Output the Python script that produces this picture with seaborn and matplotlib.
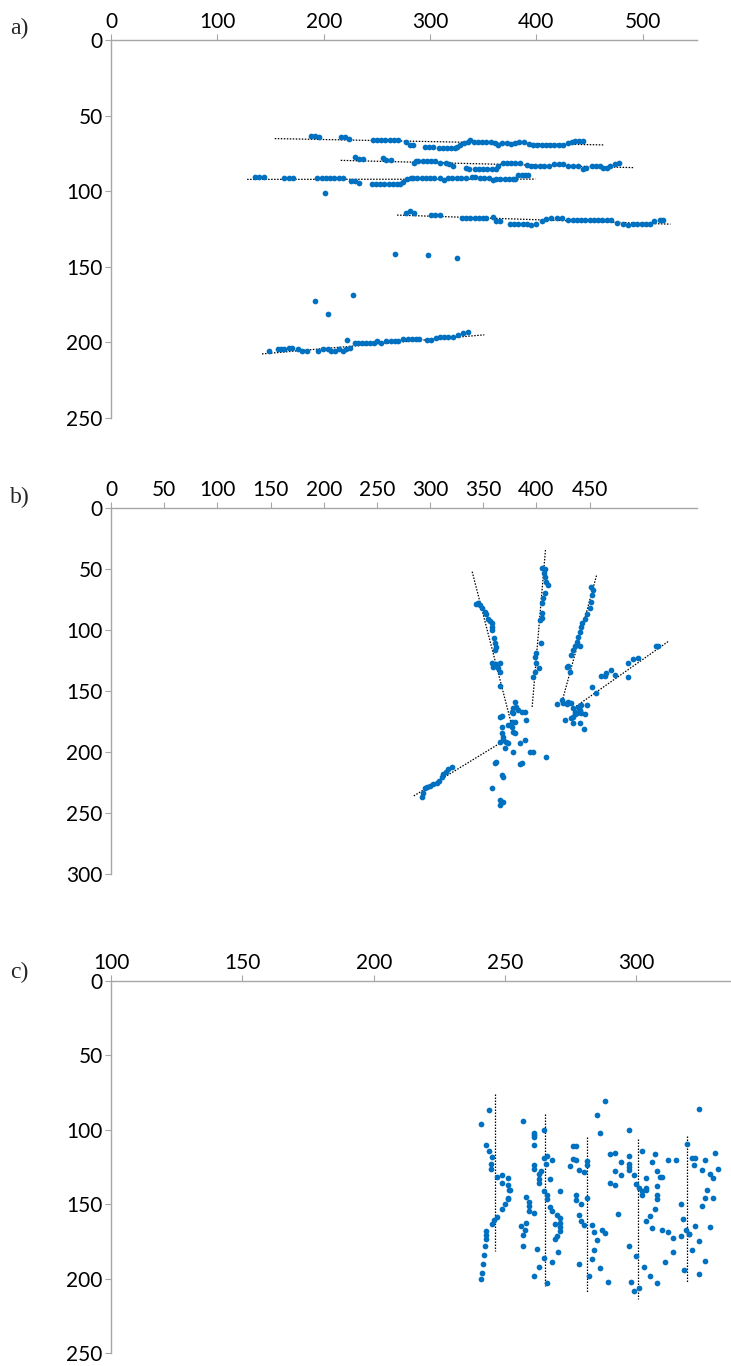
import matplotlib
matplotlib.use('Agg')
import matplotlib.pyplot as plt
import seaborn as sns
import pandas as pd

# ---------------- data ----------------
# panel a : five horizontal tracks (x, y)
a_track1 = [(188,63.2),(192,63.2),(196,64.3),(216,63.9),(220,63.9),(224,65.2),
            (246,66.3),(250,66.3),(254,66.3),(258,66.3),(262,66.3),(266,66.3),(270,66.3),
            (277,67.6),(281,69.4),(284,69.4),(295,70.5),(299,70.5),(303,70.5),
            (308,71.6),(312,71.6),(316,71.6),(320,71.6),(323,71.6),
            (325,70.5),(328,69.2),(332,68.3),(336,67.2),(338,66.1),
            (341,67.4),(345,67.4),(349,67.4),(353,67.4),(357,67.4),
            (361,68.3),(364,69.2),(368,68.3),(372,68.3),(376,68.5),(380,68.3),
            (384,67.4),(388,67.4),(393,68.5),(397,69.2),(401,69.4),(405,69.4),(409,69.4),
            (413,69.4),(417,69.4),(421,69.4),(425,69.4),(430,68.3),(433,67.4),
            (436,67.0),(440,67.0),(444,67.0)]
a_track2 = [(229,77.4),(233,78.5),(237,78.5),(256,78.3),(259,79.4),(263,79.4),
            (285,81.4),(287,80.0),(289,80.0),(293,80.0),(297,80.0),(301,80.0),(305,80.0),
            (309,81.1),(315,81.4),(318,82.2),(322,83.6),
            (334,84.4),(337,85.1),(342,85.6),(346,85.6),(350,85.6),(354,85.6),(358,85.6),(362,85.6),
            (364,83.3),(369,81.4),(372,81.4),(376,81.4),(380,81.4),(385,81.4),
            (391,82.5),(395,83.3),(399,83.6),(403,83.6),(407,83.6),(412,83.6),
            (417,82.2),(421,82.2),(425,82.2),(430,83.6),(434,83.6),(439,83.6),
            (444,85.6),(447,84.4),(452,83.6),(456,83.6),(460,83.6),(463,84.7),
            (466,84.4),(469,83.3),(474,82.2),(478,81.4)]
a_track3 = [(135,90.4),(139,90.4),(144,90.4),(163,91.5),(167,91.5),(171,91.5),
            (194,91.5),(198,91.5),(202,91.5),(206,91.5),(210,91.5),(214,91.5),(218,91.5),
            (226,93.3),(229,93.3),(233,94.4),
            (245,95.5),(249,95.5),(253,95.5),(257,95.5),(261,95.5),(265,95.5),(269,95.5),(272,95.5),
            (275,93.9),(278,92.2),(282,91.1),
            (284,91.3),(288,91.3),(292,91.3),(296,91.3),(300,91.3),(304,91.3),(309,91.3),
            (313,92.5),(317,91.3),(321,91.3),(325,91.3),(329,91.3),(334,91.3),
            (339,90.4),(342,90.4),(347,91.5),(351,91.5),(355,91.5),(359,92.8),
            (362,91.7),(366,91.7),(370,91.7),(374,91.7),(378,91.7),(380,91.7),
            (383,89.5),(386,89.3),(389,89.3),(392,89.3),(201,101.5)]
a_track4 = [(277,114.3),(281,113.2),(285,114.3),(301,115.6),(305,115.6),(309,115.6),
            (330,117.4),(334,117.4),(338,117.4),(342,117.4),(346,117.4),(350,117.4),(353,117.4),
            (359,117.0),(362,119.4),(366,119.4),
            (375,121.6),(379,121.6),(383,121.6),(387,121.6),(391,121.6),
            (395,122.2),(400,121.6),(405,119.8),(409,118.3),(414,117.4),(419,117.4),(424,117.4),
            (430,119.1),(434,119.1),(438,119.1),(442,119.1),(446,119.1),(450,119.1),
            (454,119.1),(458,119.1),(462,119.1),(466,119.1),(470,119.1),
            (476,120.9),(481,121.6),(486,122.2),(491,121.6),(495,121.6),(499,121.6),
            (503,121.6),(507,121.6),(511,119.8),(516,119.1),(519,119.1)]
a_track5 = [(149,205.6),(157,204.5),(160,204.5),(163,204.5),(167,203.4),(170,203.4),
            (176,204.5),(180,205.6),(184,205.6),(195,205.6),(199,204.5),(204,204.5),
            (207,205.6),(211,205.6),(214,204.5),(218,205.6),(221,204.5),(225,203.4),(222,198.3),
            (229,200.5),(232,200.5),(236,200.5),(240,200.5),(244,200.5),(247,200.5),
            (250,199.4),(254,200.5),(259,199.4),(263,199.4),(267,199.4),(270,199.4),
            (275,197.9),(279,197.9),(283,197.9),(287,197.9),(290,197.9),
            (297,198.3),(301,198.3),(306,197.2),(309,196.1),(313,196.1),(317,196.1),(322,196.1),
            (326,195.0),(331,193.9),(336,193.4)]
a_outliers = [(192,172.4),(204,181.5),(228,168.5),(267,141.5),(298,142.4),(325,144.4)]
a_fits = [((154,65.2),(464,69.4)), ((216,79.6),(491,84.4)), ((128,92.2),(399,92.0)),
          ((269,115.8),(526,121.8)), ((142,207.6),(351,195.0))]

# panel b : hand-like spread
b_finger1 = [(343.1,78.9),(345.3,78.1),(346.8,79.5),(348.4,82.2),(351.5,84.9),(353.0,86.9),
             (354.7,90.9),(356.2,92.3),(357.8,94.5),(357.8,97.2),(358.7,100.0),(360.0,106.8),
             (360.9,110.9),(361.8,113.6),(360.9,116.4),(358.7,126.7),(359.3,130.0),
             (362.4,127.8),(365.6,127.3),(364.1,131.4),(365.6,134.1),(365.6,145.9)]
b_finger2 = [(404.8,49.4),(407.9,50.2),(407.0,53.5),(408.5,56.3),(409.4,60.4),(411.0,63.1),
             (407.9,69.9),(406.3,74.0),(405.7,78.1),(404.8,86.3),(404.8,90.4),(403.1,91.8),
             (404.4,110.3),(399.4,119.1),(398.5,121.8),(400.0,127.3),(402.6,131.4),
             (398.5,134.1),(396.9,138.2)]
b_finger3 = [(451.7,64.4),(453.4,67.2),(452.7,71.3),(451.7,76.7),(450.2,82.2),(447.1,86.9),
             (445.5,91.2),(443.3,94.5),(442.3,97.8),(440.8,101.3),(439.2,105.4),(437.7,109.5),
             (436.1,113.1),(434.6,116.4),(432.9,120.5),(440.8,113.1),(429.8,129.5),
             (431.4,134.1),(428.3,130.0)]
b_thumb = [(514.4,113.1),(512.9,113.1),(495.6,123.2),(490.9,124.0),(486.2,126.7),(473.7,136.8),
           (470.5,132.7),(465.9,135.5),(461.1,137.7),(464.3,137.7),(486.2,138.2),(452.7,146.4),
           (456.5,151.3),(442.3,161.4),(447.1,161.4)]
b_palm_right = [(419.5,160.6),(423.6,157.3),(425.2,159.5),(428.3,160.6),(429.8,158.7),
                (432.9,160.1),(434.6,164.2),(436.1,166.9),(437.7,168.3),(439.2,162.8),
                (440.8,165.5),(442.3,168.3),(445.5,168.8),(436.1,168.8),(434.6,171.0),
                (426.7,173.7),(432.9,172.4),(434.6,175.9),(440.8,176.5),(444.5,181.1)]
b_palm_left = [(379.7,158.7),(381.2,162.8),(378.1,164.2),(382.8,165.5),(386.0,166.9),
               (389.1,166.9),(390.6,173.7),(376.6,166.9),(378.1,168.3),(379.7,175.1),
               (376.6,175.1),(365.6,171.0),(367.2,170.5),(373.4,177.8),(376.6,179.2),
               (378.1,183.3),(379.7,184.7),(367.2,179.2),(367.2,184.7),(368.7,187.4),
               (365.6,191.5),(368.7,190.1),(371.8,191.5),(373.4,192.9),(370.3,197.0),
               (378.1,199.7),(384.4,192.3),(389.1,190.1),(393.7,199.7),(396.9,199.7),
               (408.8,204.3),(362.4,207.9),(360.9,208.7),(386.0,208.7),(384.4,209.8),
               (367.2,218.8),(368.7,220.2),(357.8,229.7),(365.6,239.3),(368.7,240.7),
               (365.6,243.4)]
b_arm = [(292.0,237.1),(293.0,233.8),(295.2,229.7),(297.2,228.4),(299.8,227.8),(302.9,226.2),
         (306.1,225.1),(308.6,223.5),(311.7,220.7),(312.3,218.3),(314.9,216.1),(317.1,214.2),
         (320.2,212.0)]
b_fits = [((339.6,52.2),(375.9,175.1)), ((408.5,34.4),(395.9,164.2)),
          ((456.5,55.4),(424.1,158.7)), ((523.8,109.5),(434.6,164.2)),
          ((284.7,236.0),(367.2,192.0))]

# panel c : five vertical columns
c_col1 = [(240.9,95.9),(244.0,86.9),(242.9,110.4),(244.0,114.2),(245.0,118.3),(244.8,123.2),
          (244.8,126.6),(247.0,131.7),(248.8,130.6),(251.0,132.6),(249.0,136.0),(251.0,137.1),
          (251.4,140.7),(252.0,140.7),(251.0,145.6),(251.0,146.7),(249.8,150.1),(248.8,153.0),
          (247.0,158.4),(245.9,160.8),(245.0,163.1),(242.9,168.0),(242.9,170.7),(242.9,173.6),
          (242.3,178.0),(242.0,184.0),(241.6,190.0),(241.3,196.0),(241.0,200.0)]
c_col2 = [(256.8,94.3),(260.9,101.9),(260.9,103.5),(260.9,104.8),(260.9,110.4),(260.9,123.6),
          (260.9,126.6),(263.8,127.7),(263.0,129.9),(263.0,133.3),(263.0,136.0),(265.0,100.3),
          (265.0,118.7),(266.0,117.8),(265.7,122.7),(267.9,120.5),(267.0,133.0),(265.0,141.1),
          (266.0,144.0),(266.0,146.7),(270.8,141.1),(267.0,151.9),(267.9,154.5),(269.8,157.2),
          (270.8,159.5),(270.8,162.4),(270.8,165.3),(270.8,168.0),(268.9,163.5),(269.8,171.6),
          (268.9,173.6),(258.0,145.1),(259.0,148.3),(259.0,151.2),(259.0,154.5),(260.9,155.7),
          (258.0,162.6),(257.7,167.5),(256.0,164.4),(256.8,170.7),
          (262.0,180.0),(265.0,186.0),(263.0,192.0),(261.0,198.0),(266.0,203.0),(270.0,182.0),
          (268.0,189.0),(257.0,178.0)]
c_col3 = [(275.9,111.1),(277.0,111.1),(275.9,119.4),(277.0,120.5),(274.9,124.5),(278.0,127.2),
          (280.0,128.6),(281.0,121.0),(281.0,123.6),(277.0,143.8),(277.0,146.9),(279.0,150.1),
          (278.0,157.2),(279.0,161.3),(280.0,164.2),(281.0,145.6),(283.0,164.2),(284.0,168.4),
          (285.0,174.3),(287.0,167.5),(288.0,169.6),(285.0,90.0),(286.0,101.9),(288.0,80.6),
          (290.0,116.5),(292.0,115.3),(292.0,127.7),(294.0,121.4),(294.0,130.6),(290.0,135.7),
          (292.0,136.9),(293.0,156.3),
          (284.0,181.0),(283.0,187.0),(286.0,193.0),(289.0,202.0),(282.0,198.0),(278.0,190.0)]
c_col4 = [(297.1,100.1),(297.1,117.6),(297.1,123.2),(297.1,125.0),(297.1,127.0),(299.0,130.6),
          (300.0,136.6),(300.9,138.9),(302.0,141.1),(302.0,144.0),(302.0,114.2),(303.8,132.6),
          (303.8,138.9),(303.8,140.7),(306.0,121.4),(307.0,116.5),(307.9,127.7),(308.9,131.7),
          (309.8,131.7),(307.9,137.8),(307.9,144.0),(307.9,146.7),(307.0,153.0),(305.0,158.1),
          (303.8,161.3),(306.0,166.2),(309.8,167.1),(312.0,168.4),(314.0,172.5),(312.0,120.5),
          (314.9,120.5),(316.8,150.1),(317.8,160.2),(316.8,171.3),(318.8,167.5),(320.1,170.2),
          (297.0,178.0),(300.0,185.0),(303.0,192.0),(305.0,198.0),(298.0,202.0),(301.0,206.0),
          (299.0,208.0),(308.0,203.0),(311.0,189.0),(314.0,182.0)]
c_col5 = [(319.1,109.3),(321.1,118.7),(322.2,118.7),(321.9,123.6),(323.9,85.8),(324.9,126.8),
          (326.0,120.5),(328.0,129.9),(329.0,132.6),(330.0,115.3),(331.0,126.6),(327.0,140.7),
          (326.0,146.0),(329.0,146.0),(324.9,151.2),(322.2,164.4),(328.0,165.3),(323.9,174.7),
          (320.0,170.2),(321.0,181.0),(326.0,188.0),(318.0,194.0),(324.0,197.0)]
c_fits = [((246.3,76.1),(246.3,181.5)), ((265.3,89.1),(265.3,205.0)),
          ((281.3,105.0),(281.3,209.0)), ((300.5,106.0),(300.5,214.0)),
          ((319.3,104.0),(319.3,203.0))]

a_xticks = [0, 100, 200, 300, 400, 500]
a_yticks = [0, 50, 100, 150, 200, 250]
b_xticks = [0, 50, 100, 150, 200, 250, 300, 350, 400, 450]
b_yticks = [0, 50, 100, 150, 200, 250, 300]
c_xticks = [100, 150, 200, 250, 300]
c_yticks = [0, 50, 100, 150, 200, 250]
panel_labels = ['a)', 'b)', 'c)']

# ---------------- drawing ----------------
sns.set_theme(style='white')
plt.rcParams['font.family'] = ['Lato', 'DejaVu Sans']

W, H = 731, 1366
fig = plt.figure(figsize=(W / 100, H / 100), dpi=100)

def px_axes(left, top, right, bottom):
    return fig.add_axes([left / W, 1 - bottom / H, (right - left) / W, (bottom - top) / H])

BLUE = '#0070C0'
GRID = '#a6a6a6'

def draw(ax, groups, fits, xlim, ylim, xticks, yticks):
    pts = [p for g in groups for p in g]
    df = pd.DataFrame(pts, columns=['x', 'y'])
    for (x0, y0), (x1, y1) in fits:
        ax.plot([x0, x1], [y0, y1], color='black', lw=0.9, ls=(0, (1.2, 1.2)), zorder=2)
    sns.scatterplot(data=df, x='x', y='y', ax=ax, color=BLUE, s=17, linewidth=0, zorder=3)
    ax.set_xlabel('')
    ax.set_ylabel('')
    ax.set_xlim(*xlim)
    ax.set_ylim(*ylim)
    ax.set_xticks(xticks)
    ax.set_yticks(yticks)
    ax.xaxis.tick_top()
    for s in ['right', 'bottom']:
        ax.spines[s].set_visible(False)
    for s in ['top', 'left']:
        ax.spines[s].set_visible(True)
        ax.spines[s].set_color(GRID)
        ax.spines[s].set_linewidth(1.0)
    ax.tick_params(axis='x', top=True, bottom=False, labeltop=True, labelbottom=False,
                   direction='out', length=4, width=0.8, color=GRID, labelsize=15, pad=2,
                   labelcolor='black')
    ax.tick_params(axis='y', left=True, direction='out', length=4, width=0.8, color=GRID,
                   labelsize=15, pad=2, labelcolor='black')
    ax.set_facecolor('white')

ax_a = px_axes(111, 40, 697, 418)
draw(ax_a, [a_track1, a_track2, a_track3, a_track4, a_track5, a_outliers], a_fits,
     (0, 551), (250, 0), a_xticks, a_yticks)

ax_b = px_axes(111, 508, 697, 874)
draw(ax_b, [b_finger1, b_finger2, b_finger3, b_thumb, b_palm_right, b_palm_left, b_arm], b_fits,
     (0, 551), (300, 0), b_xticks, b_yticks)

ax_c = px_axes(111, 981, 731, 1353)
draw(ax_c, [c_col1, c_col2, c_col3, c_col4, c_col5], c_fits,
     (100, 336), (250, 0), c_xticks, c_yticks)

for lab, ypx in zip(panel_labels, [28, 497, 972]):
    fig.text(10 / W, 1 - ypx / H, lab, family=['Liberation Serif', 'DejaVu Serif'],
             fontsize=17, va='center', ha='left')

fig.savefig('out.png', dpi=100, facecolor='white')
